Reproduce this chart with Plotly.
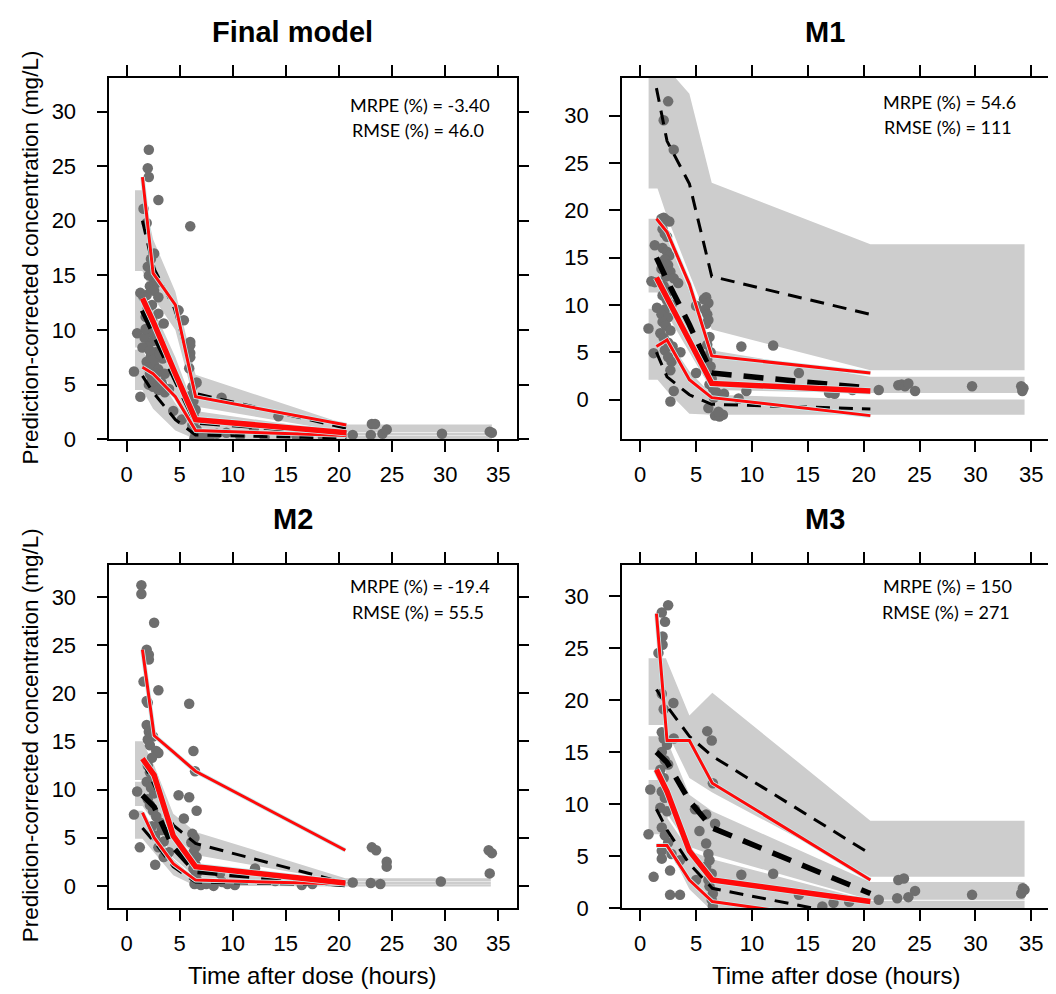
import plotly.graph_objects as go

W, H = 1056, 994

# ---------------- data ----------------
TITLES = ["Final model", "M1", "M2", "M3"]
MRPE = ["-3.40", "54.6", "-19.4", "150"]
RMSE = ["46.0", "111", "55.5", "271"]
X_TICKS = [0, 5, 10, 15, 20, 25, 30, 35]
Y_TICKS = [0, 5, 10, 15, 20, 25, 30]
X_LABEL = "Time after dose (hours)"
Y_LABEL = "Prediction-corrected concentration (mg/L)"

# ---- Final model ----
fm_bin_x = [1.5, 2.5, 4.6, 6.5, 20.7]
fm_obs_p95 = [24.0, 15.2, 12.3, 3.9, 1.3]
fm_obs_p50 = [12.9, 10.8, 6.0, 1.8, 0.6]
fm_obs_p05 = [6.6, 6.0, 3.9, 0.8, 0.35]
fm_sim_p95 = [20.0, 15.8, 11.8, 4.2, 1.0]
fm_sim_p50 = [11.8, 9.8, 5.6, 1.6, 0.55]
fm_sim_p05 = [5.8, 4.3, 1.8, 0.4, 0.1]
fm_band_x = [0.8, 1.5, 2.5, 4.6, 6.5, 20.7, 34.4]
fm_hi_lo = [15.4, 15.4, 13.0, 10.0, 3.0, 0.65, 0.65]
fm_hi_hi = [22.8, 22.8, 18.3, 13.5, 5.9, 1.35, 1.35]
fm_md_lo = [8.4, 8.4, 7.5, 4.0, 1.0, 0.35, 0.35]
fm_md_hi = [13.4, 13.4, 12.0, 7.5, 2.6, 0.6, 0.6]
fm_lo_lo = [4.5, 4.5, 2.8, 0.8, 0.0, 0.0, 0.0]
fm_lo_hi = [8.2, 8.2, 6.4, 3.3, 0.8, 0.3, 0.3]
fm_t = [2.1, 2.0, 2.1, 3.0, 1.6, 1.9, 6.0, 2.6, 2.3, 2.0, 2.3, 2.1, 2.5, 2.8, 2.2, 2.6, 1.9, 3.0,
        1.3, 1.6, 4.9, 5.4, 3.5, 3.0, 2.4, 2.0, 1.8, 2.7, 2.2, 1.0, 1.7, 2.5, 3.2, 2.0, 1.5, 2.8,
        2.3, 3.4, 1.9, 2.6, 3.0, 2.2, 0.7, 3.6, 2.7, 3.3, 2.5, 3.0, 3.6, 1.3, 4.0, 2.1,
        2.4, 2.9, 1.8, 2.2, 2.6, 3.1, 2.0, 2.4, 2.8, 3.4,
        6.0, 6.0, 6.0, 6.0, 5.9, 6.6, 6.2, 6.1, 6.3, 6.2, 6.5, 6.3, 6.4, 6.2, 6.6, 6.5, 6.9, 7.3,
        7.8, 6.4, 4.4, 5.2, 8.95, 14.3, 9.4, 10.7, 12.0, 8.5, 13.0, 16.0, 18.5,
        21.3, 23.1, 23.4, 23.0, 24.1, 24.5, 29.7, 34.2, 34.4]
fm_c = [26.5, 24.8, 24.0, 21.9, 21.1, 19.8, 19.5, 17.0, 16.5, 15.8, 15.6, 15.0, 14.8, 14.3, 14.0, 13.6, 13.2, 13.0,
        13.4, 13.0, 11.8, 10.9, 10.6, 11.5, 12.3, 12.0, 11.2, 10.2, 9.8, 9.7, 9.3, 9.0, 8.8, 8.5, 8.4, 8.0,
        7.6, 7.4, 7.1, 6.8, 6.4, 6.0, 6.2, 6.0, 5.5, 5.2, 4.8, 4.5, 4.3, 3.9, 4.6, 5.0,
        10.9, 9.4, 10.1, 8.1, 7.3, 7.8, 6.6, 5.6, 6.0, 4.9,
        8.9, 8.6, 7.9, 7.5, 6.5, 5.2, 4.8, 4.0, 3.5, 3.0, 2.7, 2.2, 1.7, 1.3, 0.9, 0.5, 0.3, 0.2,
        0.15, 0.1, 2.6, 1.8, 3.8, 2.1, 0.6, 0.3, 1.0, 0.5, 0.2, 0.3, 0.2,
        0.4, 1.4, 1.4, 0.4, 0.5, 0.9, 0.5, 0.7, 0.6]

# ---- M1 ----
m1_bin_x = [1.45, 2.4, 4.4, 6.4, 20.6]
m1_obs_p95 = [19.1, 17.7, 12.2, 4.6, 2.8]
m1_obs_p50 = [12.9, 10.7, 6.2, 1.7, 0.9]
m1_obs_p05 = [5.6, 6.3, 2.1, 0.2, -1.7]
m1_sim_p95 = [32.9, 27.3, 22.8, 13.0, 9.0]
m1_sim_p50 = [15.0, 12.6, 7.9, 2.8, 1.2]
m1_sim_p05 = [5.0, 2.4, 0.5, -0.5, -1.0]
m1_band_x = [0.75, 1.55, 2.4, 4.4, 6.4, 20.6, 34.4]
m1_hi_lo = [22.3, 22.3, 19.3, 13.3, 7.4, 3.1, 3.1]
m1_hi_hi = [36.0, 36.0, 35.0, 32.3, 22.9, 16.4, 16.4]
m1_md_lo = [11.3, 11.3, 9.0, 5.0, 1.0, 0.7, 0.7]
m1_md_hi = [19.1, 19.1, 17.0, 11.5, 5.2, 2.4, 2.4]
m1_lo_lo = [2.1, 2.1, 0.9, -1.5, -1.6, -1.6, -1.6]
m1_lo_hi = [9.6, 9.6, 6.5, 3.0, 0.5, 0.0, 0.0]
m1_t = [2.5, 2.1, 3.0, 1.9, 2.1, 2.3, 2.6, 2.0, 2.2, 2.4, 1.3, 2.0, 2.4, 2.6, 2.2, 2.5, 1.9, 2.7,
        2.3, 3.0, 3.4, 1.0, 1.3, 2.1, 2.6, 2.0, 2.4, 2.8, 1.5, 2.2, 1.9, 2.5, 2.0, 2.3, 2.7, 0.74,
        1.8, 2.1, 2.5, 2.9, 1.2, 2.2, 3.6, 2.5, 2.8, 2.7, 3.0, 2.7,
        5.0, 5.7, 5.9, 6.1, 5.8, 6.0, 6.1, 5.9, 6.2, 6.0, 6.3, 6.0, 6.3, 6.1, 6.4, 6.2, 6.5, 6.8,
        7.1, 7.5, 6.6, 6.1, 6.7, 7.1, 7.4, 7.0, 5.0, 9.05, 11.9, 14.2, 9.5, 8.8, 16.9, 17.4, 19.0,
        21.35, 23.1, 23.4, 23.7, 24.0, 24.6, 29.7, 34.1, 34.3, 34.2]
m1_c = [31.5, 29.5, 26.4, 19.1, 19.2, 19.0, 18.8, 18.0, 17.5, 17.2, 16.3, 16.0, 15.6, 15.2, 14.8, 14.2, 13.8, 13.5,
        13.0, 12.8, 12.3, 12.5, 12.4, 12.0, 11.5, 11.0, 10.5, 10.0, 9.7, 9.5, 9.0, 8.7, 8.2, 7.8, 7.3, 7.5,
        7.0, 6.5, 6.0, 5.6, 4.9, 5.2, 5.0, 4.5, 4.0, 3.1, 0.9, -0.2,
        9.9, 10.6, 10.8, 10.2, 9.5, 9.0, 8.4, 8.0, 6.6, 5.8, 5.0, 4.2, 3.5, 2.8, 2.2, 1.6, 1.2, 0.8,
        0.5, 0.6, 0.2, -0.9, -1.7, -1.8, -1.6, -1.3, 2.8, 5.6, 5.7, 2.8, 0.9, 0.1, 0.7, 0.6, 1.0,
        1.0, 1.5, 1.6, 1.4, 1.7, 0.9, 1.4, 1.4, 1.2, 0.9]

# ---- M2 ----
m2_bin_x = [1.5, 2.6, 4.4, 6.5, 20.6]
m2_obs_p95 = [24.5, 15.6, 13.9, 11.9, 3.7]
m2_obs_p50 = [13.2, 11.5, 5.2, 2.0, 0.3]
m2_obs_p05 = [7.6, 5.0, 2.3, 0.6, 0.2]
m2_sim_p95 = [13.0, 10.5, 6.3, 4.4, 0.3]
m2_sim_p50 = [9.4, 8.2, 4.0, 1.5, 0.15]
m2_sim_p05 = [6.0, 4.6, 2.0, 0.4, 0.1]
m2_band_x = [0.8, 1.5, 2.6, 4.4, 6.5, 20.6, 34.3]
m2_hi_lo = [11.0, 11.0, 8.8, 5.2, 3.2, 0.45, 0.45]
m2_hi_hi = [15.0, 15.0, 12.5, 7.5, 5.6, 0.8, 0.8]
m2_md_lo = [8.3, 8.3, 6.6, 2.9, 0.9, 0.15, 0.15]
m2_md_hi = [10.8, 10.8, 9.5, 5.0, 2.3, 0.4, 0.4]
m2_lo_lo = [4.9, 4.9, 3.4, 1.1, 0.0, -0.05, -0.05]
m2_lo_hi = [7.8, 7.8, 6.0, 2.8, 0.7, 0.15, 0.15]
m2_t = [1.4, 1.4, 2.6, 1.9, 2.1, 2.1, 1.6, 3.0, 1.9, 2.0, 5.9, 1.9, 2.1, 2.3, 2.0, 2.5, 2.2, 2.8,
        3.0, 2.4, 6.3, 6.45, 2.0, 2.2, 2.5, 1.9, 2.3, 2.6, 2.0, 1.0, 4.9, 5.9, 6.6, 5.4, 0.7, 2.2,
        2.5, 2.8, 3.1, 2.4, 3.3, 2.7, 3.5, 3.0, 1.25, 2.7, 3.5, 4.0,
        6.2, 6.4, 6.1, 6.5, 6.3, 6.6, 6.2, 6.5, 6.3, 6.6, 6.4, 6.7, 6.4, 7.0, 7.5, 8.2,
        12.1, 9.0, 9.5, 8.8, 14.0, 16.5, 17.5, 10.2,
        21.3, 23.1, 23.5, 24.5, 24.5, 23.0, 23.9, 29.6, 34.1, 34.4, 34.2]
m2_c = [31.2, 30.3, 27.3, 24.5, 24.0, 23.5, 21.2, 20.3, 19.2, 19.0, 18.9, 16.7, 16.0, 15.6, 15.2, 15.5, 14.6, 14.0,
        13.8, 13.3, 14.0, 11.9, 12.5, 11.8, 11.2, 10.8, 10.2, 9.6, 9.0, 9.8, 9.4, 9.2, 7.8, 7.0, 7.4, 8.4,
        7.8, 7.2, 6.6, 6.2, 5.8, 5.2, 4.6, 4.0, 4.0, 2.2, 3.0, 3.5,
        5.4, 5.0, 4.5, 4.0, 3.5, 3.0, 2.6, 2.2, 1.8, 1.3, 0.9, 0.5, 0.2, 0.1, 0.2, 0.0,
        1.8, 0.4, 0.2, 1.3, 0.5, 0.1, 0.2, 0.1,
        0.35, 4.0, 3.7, 2.5, 2.0, 0.3, 0.2, 0.45, 3.7, 3.4, 1.3]

# ---- M3 ----
m3_bin_x = [1.45, 2.4, 4.4, 6.45, 20.6]
m3_obs_p95 = [28.3, 16.1, 16.1, 12.0, 2.7]
m3_obs_p50 = [13.3, 11.2, 5.5, 2.7, 0.63]
m3_obs_p05 = [6.0, 6.0, 2.7, 0.63, -1.5]
m3_sim_p95 = [21.0, 19.4, 16.5, 14.6, 5.2]
m3_sim_p50 = [15.0, 14.0, 10.3, 7.7, 1.4]
m3_sim_p05 = [9.5, 7.5, 4.25, 1.9, -1.1]
m3_band_x = [0.75, 2.3, 2.45, 4.4, 6.45, 20.6, 34.4]
m3_hi_lo = [17.6, 17.6, 16.8, 12.5, 11.1, 3.0, 3.0]
m3_hi_hi = [24.0, 24.0, 23.6, 18.5, 20.7, 8.4, 8.4]
m3_md_lo = [13.3, 13.3, 9.0, 5.9, 5.1, 0.8, 0.8]
m3_md_hi = [16.5, 16.5, 16.0, 10.9, 9.3, 2.5, 2.5]
m3_lo_lo = [7.1, 7.1, 6.0, 1.8, -0.3, -0.5, -0.5]
m3_lo_hi = [12.3, 12.3, 8.6, 5.5, 4.7, 0.7, 0.7]
m3_t = [2.5, 1.93, 2.22, 2.0, 2.0, 1.63, 1.93, 2.97, 2.1, 6.0, 6.4, 1.93, 2.1, 2.4, 1.93, 2.2, 2.5, 1.8,
        2.1, 3.0, 6.5, 0.9, 1.93, 2.2, 1.8, 2.4, 4.9, 5.9, 6.7, 5.3, 0.74, 1.93, 2.2, 2.5, 1.93, 2.8,
        1.93, 3.56, 2.67, 1.2, 2.67, 3.56, 5.0,
        5.9, 6.1, 6.2, 5.9, 6.4, 6.1, 6.2, 6.5, 6.4, 6.5,
        9.05, 11.9, 14.2, 16.3, 17.3, 18.7,
        21.35, 23.1, 23.6, 23.0, 24.0, 24.6, 29.7, 34.25, 34.4, 34.1]
m3_c = [29.1, 28.4, 27.5, 26.1, 25.3, 24.5, 20.6, 19.7, 19.1, 17.0, 16.1, 16.9, 16.3, 15.7, 15.0, 14.2, 13.8, 13.3,
        12.5, 16.3, 12.0, 11.4, 11.2, 10.6, 9.65, 9.3, 9.5, 9.0, 8.1, 7.4, 7.1, 7.75, 7.0, 6.3, 5.5, 5.2,
        4.75, 4.6, 3.6, 3.0, 1.27, 1.27, 2.7,
        6.2, 5.2, 4.6, 4.0, 3.3, 2.7, 2.1, 1.4, 0.8, 0.2,
        3.2, 3.3, 1.27, 0.16, 0.5, 0.6,
        0.8, 2.7, 2.85, 0.95, 1.05, 1.65, 1.27, 1.9, 1.75, 1.4]

PANELS = [
    dict(bin_x=fm_bin_x, obs=(fm_obs_p05, fm_obs_p50, fm_obs_p95), sim=(fm_sim_p05, fm_sim_p50, fm_sim_p95),
         band_x=fm_band_x, bands=((fm_lo_lo, fm_lo_hi), (fm_md_lo, fm_md_hi), (fm_hi_lo, fm_hi_hi)), t=fm_t, c=fm_c),
    dict(bin_x=m1_bin_x, obs=(m1_obs_p05, m1_obs_p50, m1_obs_p95), sim=(m1_sim_p05, m1_sim_p50, m1_sim_p95),
         band_x=m1_band_x, bands=((m1_lo_lo, m1_lo_hi), (m1_md_lo, m1_md_hi), (m1_hi_lo, m1_hi_hi)), t=m1_t, c=m1_c),
    dict(bin_x=m2_bin_x, obs=(m2_obs_p05, m2_obs_p50, m2_obs_p95), sim=(m2_sim_p05, m2_sim_p50, m2_sim_p95),
         band_x=m2_band_x, bands=((m2_lo_lo, m2_lo_hi), (m2_md_lo, m2_md_hi), (m2_hi_lo, m2_hi_hi)), t=m2_t, c=m2_c),
    dict(bin_x=m3_bin_x, obs=(m3_obs_p05, m3_obs_p50, m3_obs_p95), sim=(m3_sim_p05, m3_sim_p50, m3_sim_p95),
         band_x=m3_band_x, bands=((m3_lo_lo, m3_lo_hi), (m3_md_lo, m3_md_hi), (m3_hi_lo, m3_hi_hi)), t=m3_t, c=m3_c),
]

# ---------------- layout geometry (pixels) ----------------
GEOM = [
    dict(px=(102, 512), py=(71, 437), xr=(-1.62, 36.73), yr=(0, 33.06), title=(286, 24), stats=(415, 98)),
    dict(px=(618, 1050), py=(71, 437), xr=(-1.64, 36.77), yr=(-4.2, 33.96), title=(822, 24), stats=(948, 95)),
    dict(px=(102, 512), py=(564, 912), xr=(-1.62, 36.73), yr=(-2.3, 33.34), title=(287, 518), stats=(415, 586)),
    dict(px=(618, 1050), py=(564, 912), xr=(-1.64, 36.77), yr=(0, 33.0), title=(822, 518), stats=(946, 586)),
]

def fx(p):
    return p / W

def fy(p):
    return 1 - p / H

BAND = "#cdcdcd"
PT = "#6e6e6e"
RED = "#ff0a0a"
HALO = "#c6eef0"

fig = go.Figure()
annotations = []
layout = dict(width=W, height=H, margin=dict(l=0, r=0, t=0, b=0), paper_bgcolor="white",
              plot_bgcolor="white", showlegend=False)

for i, (p, g) in enumerate(zip(PANELS, GEOM)):
    n = "" if i == 0 else str(i + 1)
    xa, ya = "x" + n, "y" + n
    common = dict(showline=True, linecolor="black", linewidth=1.6, mirror="ticks", ticks="outside",
                  ticklen=11, tickwidth=1.6, tickcolor="black", showgrid=False, zeroline=False,
                  tickfont=dict(family="Liberation Sans, Arial", size=22, color="black"))
    layout["xaxis" + n] = dict(domain=[fx(g["px"][0]), fx(g["px"][1])], range=list(g["xr"]), anchor=ya,
                               tickvals=X_TICKS, ticklabelstandoff=4, **common)
    layout["yaxis" + n] = dict(domain=[fy(g["py"][1]), fy(g["py"][0])], range=list(g["yr"]), anchor=xa,
                               tickvals=Y_TICKS, ticklabelstandoff=16, **common)

    bx = p["band_x"]
    for lo, hi in p["bands"]:
        fig.add_trace(go.Scatter(x=bx + bx[::-1], y=hi + lo[::-1], fill="toself", fillcolor=BAND,
                                 mode="lines", line=dict(width=0, color=BAND), hoverinfo="skip",
                                 xaxis=xa, yaxis=ya))
    fig.add_trace(go.Scatter(x=p["t"], y=p["c"], mode="markers",
                             marker=dict(size=10.5, color=PT, line=dict(width=0)), xaxis=xa, yaxis=ya))
    for k, s in enumerate(p["sim"]):
        thick = k == 1
        fig.add_trace(go.Scatter(x=p["bin_x"], y=s, mode="lines",
                                 line=dict(color="black", width=5.5 if thick else 3,
                                           dash="20px,12px" if thick else "14px,9px"),
                                 xaxis=xa, yaxis=ya))
    for k, s in enumerate(p["obs"]):
        thick = k == 1
        w = 5.5 if thick else 3
        fig.add_trace(go.Scatter(x=p["bin_x"], y=s, mode="lines", line=dict(color=HALO, width=w + 1.6),
                                 xaxis=xa, yaxis=ya))
        fig.add_trace(go.Scatter(x=p["bin_x"], y=s, mode="lines", line=dict(color=RED, width=w),
                                 xaxis=xa, yaxis=ya))

    annotations.append(dict(x=fx(g["title"][0]), y=fy(g["title"][1]), xref="paper", yref="paper",
                            text="<b>%s</b>" % TITLES[i], showarrow=False, xanchor="center", yanchor="middle",
                            font=dict(family="Liberation Sans, Arial", size=29, color="black")))
    sx, sy = g["stats"]
    annotations.append(dict(x=fx(sx), y=fy(sy), xref="paper", yref="paper",
                            text="MRPE (%%) = %s" % MRPE[i], showarrow=False, xanchor="center", yanchor="middle",
                            font=dict(family="Lato, Noto Sans", size=18, color="black")))
    annotations.append(dict(x=fx(sx - 2), y=fy(sy + 26), xref="paper", yref="paper",
                            text="RMSE (%%) = %s" % RMSE[i], showarrow=False, xanchor="center", yanchor="middle",
                            font=dict(family="Lato, Noto Sans", size=18, color="black")))

for cy in (253, 737):
    annotations.append(dict(x=fx(23), y=fy(cy), xref="paper", yref="paper", text=Y_LABEL, textangle=-90,
                            showarrow=False, xanchor="center", yanchor="middle",
                            font=dict(family="Liberation Sans, Arial", size=22.5, color="black")))
for cx in (307, 834):
    annotations.append(dict(x=fx(cx), y=fy(980), xref="paper", yref="paper", text=X_LABEL,
                            showarrow=False, xanchor="center", yanchor="middle",
                            font=dict(family="Liberation Sans, Arial", size=24, color="black")))

layout["annotations"] = annotations
fig.update_layout(**layout)
fig.write_html("out.html")
